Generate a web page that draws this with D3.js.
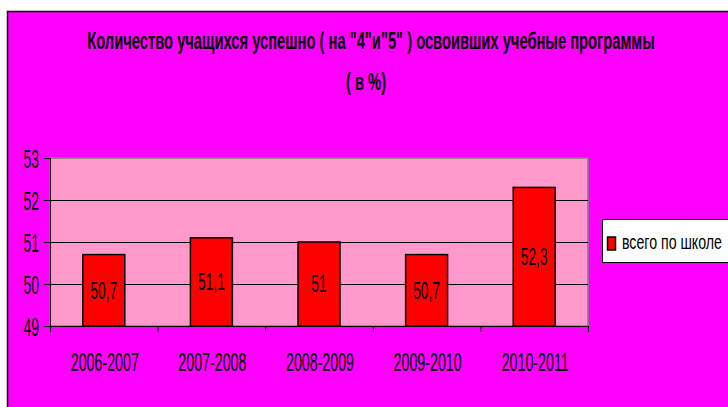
<!DOCTYPE html>
<html>
<head>
<meta charset="utf-8">
<script src="https://cdn.jsdelivr.net/npm/d3@7"></script>
<style>
  html, body { margin: 0; padding: 0; background: #fff; }
  svg { display: block; }
  text { font-family: "Liberation Sans", Arial, sans-serif; }
</style>
</head>
<body>
<div class="vis"></div>
<script>
const years = ["2006-2007", "2007-2008", "2008-2009", "2009-2010", "2010-2011"];
const values = [50.7, 51.1, 51, 50.7, 52.3];
const yTicks = [49, 50, 51, 52, 53];
const seriesName = "всего по школе";
const titleLines = ["Количество учащихся успешно ( на \"4\"и\"5\" ) освоивших учебные программы", "( в %)"];

const W = 728, H = 407;
const plot = { x0: 50, x1: 588, y0: 158, y1: 326 };

// the original uses a narrow face; squeeze glyphs horizontally around their anchor
const squeeze = (sel, k) => sel.each(function () {
    const t = d3.select(this);
    const tx = +t.attr("x") || 0, ty = +t.attr("y") || 0;
    const base = t.attr("transform") || "";
    t.attr("x", 0).attr("y", 0)
        .attr("transform", `${base} translate(${tx},${ty}) scale(${k},1)`);
});

const svg = d3.select(".vis").append("svg")
    .attr("width", W)
    .attr("height", H);

// chart area
svg.append("rect")
    .attr("x", 7.5).attr("y", 11.5)
    .attr("width", W + 20).attr("height", H + 20)
    .attr("fill", "#ff00ff")
    .attr("stroke", "#000").attr("stroke-width", 1.5);

// title
const title = svg.append("g").selectAll("text")
    .data(titleLines)
    .join("text")
    .attr("x", (d, i) => i ? 366 : 371)
    .attr("y", (d, i) => 49 + i * 41)
    .attr("text-anchor", "middle")
    .style("font-size", "23px")
    .style("font-weight", "bold")
    .text(d => d);
const titleK = 568 / title.node().getComputedTextLength();
squeeze(title, titleK);

const x = d3.scaleBand().domain(years).range([plot.x0, plot.x1]).paddingInner(0.61).paddingOuter(0.305);
const y = d3.scaleLinear().domain([49, 53]).range([plot.y1, plot.y0]);

// plot area
svg.append("rect")
    .attr("x", plot.x0).attr("y", plot.y0)
    .attr("width", plot.x1 - plot.x0).attr("height", plot.y1 - plot.y0)
    .attr("fill", "#ff99cc")
    .attr("stroke", "#808080").attr("stroke-width", 1.5);

// gridlines
svg.append("g").selectAll("line")
    .data(yTicks.slice(1, -1))
    .join("line")
    .attr("x1", plot.x0).attr("x2", plot.x1)
    .attr("y1", d => Math.round(y(d)) + 0.5).attr("y2", d => Math.round(y(d)) + 0.5)
    .attr("stroke", "#000").attr("stroke-width", 1);

// bars
svg.append("g").selectAll("rect")
    .data(values)
    .join("rect")
    .attr("x", (d, i) => x(years[i]))
    .attr("y", d => y(d))
    .attr("width", x.bandwidth())
    .attr("height", d => y(49) - y(d))
    .attr("fill", "#ff0000")
    .attr("stroke", "#000").attr("stroke-width", 1.5);

// value labels
const fmt = v => String(v).replace(".", ",");
const valLabels = svg.append("g").selectAll("text")
    .data(values)
    .join("text")
    .attr("x", (d, i) => x(years[i]) + x.bandwidth() / 2)
    .attr("y", d => (y(d) + y(49)) / 2)
    .attr("dy", "0.36em")
    .attr("text-anchor", "middle")
    .style("font-size", "23px")
    .text(d => fmt(d));
squeeze(valLabels, 0.6);

// y axis
const yAxis = svg.append("g")
    .attr("transform", `translate(${plot.x0}, 0)`)
    .call(d3.axisLeft(y).tickValues(yTicks).tickSize(6).tickPadding(5).tickFormat(d3.format("d")));
yAxis.select(".domain").attr("stroke", "#000");
yAxis.selectAll("text").style("font-size", "25px").style("font-family", null).attr("fill", "#000").attr("dy", "0.36em");
squeeze(yAxis.selectAll("text"), 0.56);

// x axis with ticks at category boundaries
const xEdge = d3.scaleLinear().domain([0, years.length]).range([plot.x0, plot.x1]);
const xAxis = svg.append("g")
    .attr("transform", `translate(0, ${plot.y1})`)
    .call(d3.axisBottom(xEdge).ticks(years.length).tickSize(6).tickFormat(""));
xAxis.select(".domain").attr("stroke", "#000");

const xLabels = svg.append("g").selectAll("text")
    .data(years)
    .join("text")
    .attr("x", d => x(d) + x.bandwidth() / 2 + 1)
    .attr("y", 371)
    .attr("text-anchor", "middle")
    .style("font-size", "25px")
    .text(d => d);
squeeze(xLabels, 0.57);

// legend
const legend = svg.append("g").attr("transform", "translate(602, 219)");
legend.append("rect")
    .attr("x", 0.5).attr("y", 0.5)
    .attr("width", 140).attr("height", 43)
    .attr("fill", "#fff")
    .attr("stroke", "#000").attr("stroke-width", 1);
legend.append("rect")
    .attr("x", 5.5).attr("y", 18)
    .attr("width", 8).attr("height", 13)
    .attr("fill", "#ff0000")
    .attr("stroke", "#000").attr("stroke-width", 1.5);
const legText = legend.append("text")
    .attr("x", 20).attr("y", 30)
    .style("font-size", "21px")
    .text(seriesName);
squeeze(legText, 100 / legText.node().getComputedTextLength());
</script>
</body>
</html>
